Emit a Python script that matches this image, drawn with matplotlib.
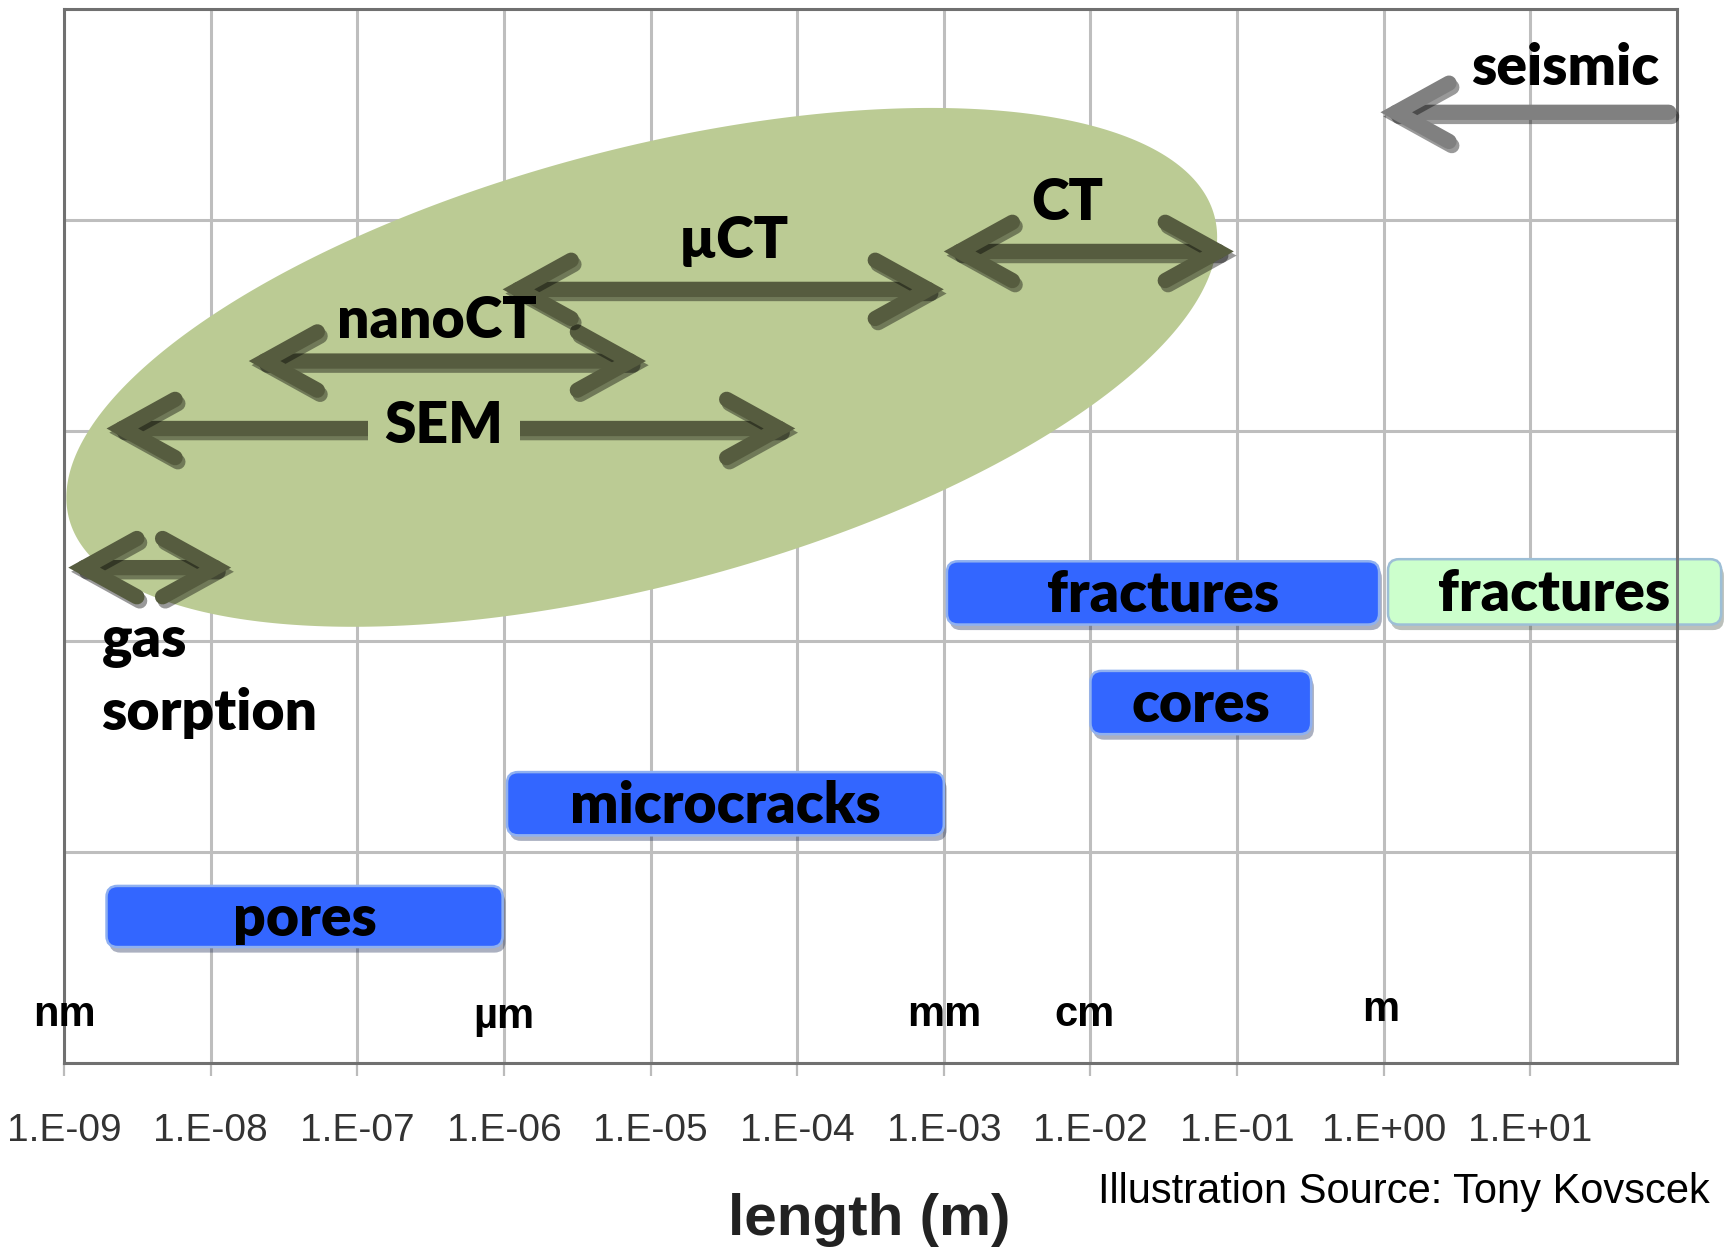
import numpy as np
import matplotlib.pyplot as plt
import matplotlib.patheffects as pe
from matplotlib.patches import Polygon, FancyArrowPatch, ArrowStyle, FancyBboxPatch
from matplotlib.transforms import IdentityTransform


# x axis (length in metres)
tick_vals = [1e-9, 1e-8, 1e-7, 1e-6, 1e-5, 1e-4, 1e-3, 1e-2, 1e-1, 1e0, 1e1]
tick_labels = ['1.E-09', '1.E-08', '1.E-07', '1.E-06', '1.E-05', '1.E-04',
               '1.E-03', '1.E-02', '1.E-01', '1.E+00', '1.E+01']

# unit markers just above the axis
unit_names = ['nm', 'µm', 'mm', 'cm', 'm']
unit_x = [1e-9, 1e-6, 1e-3, 9.1e-3, 0.95]
unit_y = [0.23, 0.22, 0.23, 0.23, 0.25]

# feature boxes
box_names = ['pores', 'microcracks', 'fractures', 'cores', 'fractures']
box_lo = [1.95e-9, 1.05e-6, 1.05e-3, 1.0e-2, 1.07]
box_hi = [9.8e-7, 1.0e-3, 0.93, 0.32, 200]
box_y0 = [0.55, 1.08, 2.08, 1.56, 2.08]
box_y1 = [0.84, 1.38, 2.38, 1.86, 2.39]
box_colors = ['#3366FF', '#3366FF', '#3366FF', '#3366FF', '#CCFFCC']
box_edges = ['#8FB0F0', '#8FB0F0', '#8FB0F0', '#8FB0F0', '#9DBFD6']

# imaging / measurement ranges (double arrows)
arrow_names = ['gas\nsorption', 'SEM', 'nanoCT', 'µCT', 'CT']
arrow_lo = [1.07e-9, 1.95e-9, 1.82e-8, 9.8e-7, 1.0e-3]
arrow_hi = [1.38e-8, 9.7e-5, 9.3e-6, 1.0e-3, 9.5e-2]
arrow_y = [2.35, 3.01, 3.33, 3.67, 3.85]
label_x = [1.8e-9, 3.9e-7, 3.5e-7, 3.7e-5, 7.0e-3]
label_y = [1.83, 3.02, 3.52, 3.90, 4.08]

# seismic (one-sided)
seismic_lo, seismic_hi, seismic_y = 0.95, 88, 4.51

# shaded ellipse: centre (log10 m, row), semi axes (rows), tilt (deg)
ell_cx, ell_cy = -5.06, 3.30
ell_a, ell_b, ell_tilt = 2.81, 1.034, 14.8

ellipse_color = '#BBCB94'
arrow_color = '#565C3F'
bold_font = ['Lato', 'DejaVu Sans']
narrow_font = ['Liberation Sans Narrow', 'Liberation Sans', 'DejaVu Sans']
label_size = 41

fig = plt.figure(figsize=(17.31, 12.5), dpi=100)
ax_pos = [64 / 1731, 1 - 1063 / 1250, 1613 / 1731, 1054 / 1250]
ax = fig.add_axes(ax_pos)

ax.set_xscale('log')
ax.set_xlim(1e-9, 1e2)
ax.set_ylim(0, 5)
ax.set_xticks(tick_vals)
ax.set_xticklabels(tick_labels)
ax.xaxis.set_minor_locator(plt.NullLocator())
ax.set_yticks([0, 1, 2, 3, 4, 5])
ax.tick_params(axis='y', length=0, labelleft=False)
ax.tick_params(axis='x', length=9, width=1.6, color='#BBBBBB', pad=27,
               labelsize=28, labelcolor='#333333')
for lab in ax.get_xticklabels():
    lab.set_family(narrow_font)
ax.grid(True, color='#BEBEBE', lw=2.2)
ax.set_axisbelow(True)
for s in ax.spines.values():
    s.set_color('#707070')
    s.set_linewidth(2.2)

# ellipse in screen-proportional units (one decade vs one row)
k = (ax_pos[2] * 1731 / 11) / (ax_pos[3] * 1250 / 5)
t = np.linspace(0, 2 * np.pi, 400)
th = np.radians(ell_tilt)
ex = ell_cx + (ell_a * np.cos(t) * np.cos(th) - ell_b * np.sin(t) * np.sin(th)) / k
ey = ell_cy + (ell_a * np.cos(t) * np.sin(th) + ell_b * np.sin(t) * np.cos(th))
ax.add_patch(Polygon(np.column_stack([10 ** ex, ey]), closed=True,
                     facecolor=ellipse_color, edgecolor='none', zorder=1))

# boxes (rounded corners are done in pixel space)
for name, lo, hi, y0, y1, fc, ec in zip(box_names, box_lo, box_hi, box_y0,
                                         box_y1, box_colors, box_edges):
    (px0, py0), (px1, py1) = ax.transData.transform([(lo, y0), (hi, y1)])
    box = FancyBboxPatch((px0, py0), px1 - px0, py1 - py0,
                         boxstyle='round,pad=0,rounding_size=11',
                         facecolor=fc, edgecolor=ec, lw=1.8,
                         transform=IdentityTransform(), zorder=2,
                         clip_on=False,
                         path_effects=[pe.SimplePatchShadow(offset=(2, -4),
                                                            alpha=0.35),
                                       pe.Normal()])
    ax.add_patch(box)
    ax.text(np.sqrt(lo * hi), (y0 + y1) / 2 - 0.01, name, ha='center',
            va='center', fontsize=label_size, fontweight='heavy',
            family=bold_font, zorder=5, clip_on=False)

shadow = [pe.SimpleLineShadow(offset=(2, -3), alpha=0.4, shadow_color='k'),
          pe.Normal()]


def double_arrow(lo, hi, y, style, color):
    ar = FancyArrowPatch((lo, y), (hi, y),
                         arrowstyle=ArrowStyle(style, head_length=38,
                                               head_width=21),
                         mutation_scale=1, lw=11, color=color,
                         capstyle='round', joinstyle='miter',
                         shrinkA=0, shrinkB=0, zorder=3, clip_on=False,
                         path_effects=shadow)
    ax.add_patch(ar)


for name, lo, hi, y, lx, ly in zip(arrow_names, arrow_lo, arrow_hi, arrow_y,
                                   label_x, label_y):
    double_arrow(lo, hi, y, '<->', arrow_color)
    if name == 'SEM':
        ax.text(lx, ly, name, ha='center', va='center', fontsize=label_size,
                fontweight='heavy', family=bold_font, zorder=4,
                bbox=dict(facecolor=ellipse_color, edgecolor='none', pad=12))
    elif name.startswith('gas'):
        ax.text(lx, ly, name, ha='left', va='center', fontsize=label_size,
                fontweight='heavy', family=bold_font, zorder=4,
                linespacing=1.45)
    else:
        ax.text(lx, ly, name, ha='center', va='center', fontsize=label_size,
                fontweight='heavy', family=bold_font, zorder=4)

double_arrow(seismic_lo, seismic_hi, seismic_y, '<-', '#808080')
ax.text(76, 4.72, 'seismic', ha='right', va='center', fontsize=label_size,
        fontweight='heavy', family=bold_font, zorder=4)

for name, x, y in zip(unit_names, unit_x, unit_y):
    ax.text(x, y, name, ha='center', va='center', fontsize=30,
            fontweight='bold', family=narrow_font, zorder=4)

ax.set_xlabel('length (m)', fontsize=42, fontweight='bold',
              family=narrow_font, color='#222222', va='center')
ax.xaxis.set_label_coords(0.499, -0.149)

fig.text(0.988, 0.046, 'Illustration Source: Tony Kovscek', ha='right',
         va='center', fontsize=30, family=narrow_font, color='black')

fig.savefig('out.png', dpi=100)
